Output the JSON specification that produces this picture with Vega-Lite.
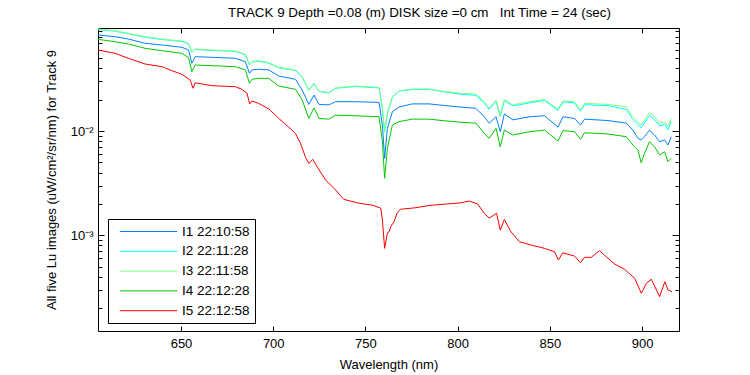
{
"$schema": "https://vega.github.io/schema/vega-lite/v6.json",
"width": 581, "height": 303,
"autosize": {"type": "none"},
"padding": {"left": 98, "top": 28, "right": 71, "bottom": 44},
"background": "white",
"title": {"text": "TRACK 9 Depth =0.08 (m) DISK size =0 cm \u00a0 Int Time = 24 (sec)", "font": "Liberation Sans", "fontSize": 13.4, "fontWeight": "normal", "color": "black", "anchor": "middle", "dx": 31, "offset": 6},
"config": {
  "view": {"stroke": "black", "strokeWidth": 1},
  "axis": {"labelFont": "Liberation Sans", "labelFontSize": 13, "labelColor": "black", "titleFont": "Liberation Sans", "titleFontSize": 13, "titleFontWeight": "normal", "titleColor": "black", "tickColor": "black", "domain": false, "grid": false, "tickSize": -5}
},
"data": {"values": [
{"s":"I1 22:10:58","w":605,"v":0.0833},{"s":"I1 22:10:58","w":614.2,"v":0.0802},{"s":"I1 22:10:58","w":621.5,"v":0.0762},{"s":"I1 22:10:58","w":630.5,"v":0.0693},{"s":"I1 22:10:58","w":639.6,"v":0.0668},{"s":"I1 22:10:58","w":650.5,"v":0.0635},{"s":"I1 22:10:58","w":654.1,"v":0.0598},{"s":"I1 22:10:58","w":655.9,"v":0.0446},{"s":"I1 22:10:58","w":657.7,"v":0.0516},{"s":"I1 22:10:58","w":666.8,"v":0.0509},{"s":"I1 22:10:58","w":679.5,"v":0.0498},{"s":"I1 22:10:58","w":684.9,"v":0.0462},{"s":"I1 22:10:58","w":687.1,"v":0.0357},{"s":"I1 22:10:58","w":688.5,"v":0.0385},{"s":"I1 22:10:58","w":692.1,"v":0.0391},{"s":"I1 22:10:58","w":697.6,"v":0.0385},{"s":"I1 22:10:58","w":703,"v":0.0337},{"s":"I1 22:10:58","w":712.1,"v":0.0313},{"s":"I1 22:10:58","w":715.7,"v":0.0247},{"s":"I1 22:10:58","w":719.3,"v":0.0180},{"s":"I1 22:10:58","w":722.1,"v":0.0221},{"s":"I1 22:10:58","w":724.8,"v":0.0180},{"s":"I1 22:10:58","w":730.2,"v":0.0178},{"s":"I1 22:10:58","w":733.8,"v":0.0191},{"s":"I1 22:10:58","w":744.7,"v":0.0191},{"s":"I1 22:10:58","w":757.4,"v":0.0188},{"s":"I1 22:10:58","w":759.2,"v":0.0114},{"s":"I1 22:10:58","w":760.4,"v":0.00547},{"s":"I1 22:10:58","w":761.9,"v":0.0106},{"s":"I1 22:10:58","w":764.6,"v":0.0153},{"s":"I1 22:10:58","w":768.2,"v":0.0170},{"s":"I1 22:10:58","w":775.4,"v":0.0182},{"s":"I1 22:10:58","w":784.5,"v":0.0182},{"s":"I1 22:10:58","w":793.6,"v":0.0175},{"s":"I1 22:10:58","w":802.6,"v":0.0169},{"s":"I1 22:10:58","w":809.9,"v":0.0165},{"s":"I1 22:10:58","w":814.4,"v":0.0137},{"s":"I1 22:10:58","w":817.1,"v":0.0119},{"s":"I1 22:10:58","w":820.8,"v":0.0137},{"s":"I1 22:10:58","w":823.1,"v":0.00985},{"s":"I1 22:10:58","w":825.3,"v":0.0146},{"s":"I1 22:10:58","w":829.9,"v":0.0128},{"s":"I1 22:10:58","w":838.9,"v":0.0137},{"s":"I1 22:10:58","w":847.1,"v":0.0140},{"s":"I1 22:10:58","w":854.4,"v":0.0109},{"s":"I1 22:10:58","w":857.1,"v":0.0137},{"s":"I1 22:10:58","w":863.4,"v":0.0132},{"s":"I1 22:10:58","w":866.6,"v":0.0114},{"s":"I1 22:10:58","w":868.8,"v":0.0130},{"s":"I1 22:10:58","w":881.5,"v":0.0126},{"s":"I1 22:10:58","w":891.4,"v":0.0119},{"s":"I1 22:10:58","w":895,"v":0.0102},{"s":"I1 22:10:58","w":897.7,"v":0.00851},{"s":"I1 22:10:58","w":899.5,"v":0.00820},{"s":"I1 22:10:58","w":901.3,"v":0.00882},{"s":"I1 22:10:58","w":904,"v":0.0102},{"s":"I1 22:10:58","w":906.7,"v":0.00916},{"s":"I1 22:10:58","w":909.5,"v":0.00790},{"s":"I1 22:10:58","w":912.2,"v":0.00820},{"s":"I1 22:10:58","w":914,"v":0.00734},{"s":"I1 22:10:58","w":915.8,"v":0.00882},
{"s":"I2 22:11:28","w":605,"v":0.0941},{"s":"I2 22:11:28","w":614.2,"v":0.0907},{"s":"I2 22:11:28","w":621.5,"v":0.0855},{"s":"I2 22:11:28","w":630.5,"v":0.0794},{"s":"I2 22:11:28","w":639.6,"v":0.0754},{"s":"I2 22:11:28","w":650.5,"v":0.0722},{"s":"I2 22:11:28","w":654.1,"v":0.0686},{"s":"I2 22:11:28","w":655.9,"v":0.0570},{"s":"I2 22:11:28","w":657.7,"v":0.0605},{"s":"I2 22:11:28","w":666.8,"v":0.0592},{"s":"I2 22:11:28","w":679.5,"v":0.0579},{"s":"I2 22:11:28","w":684.9,"v":0.0539},{"s":"I2 22:11:28","w":687.1,"v":0.0432},{"s":"I2 22:11:28","w":688.5,"v":0.0457},{"s":"I2 22:11:28","w":692.1,"v":0.0467},{"s":"I2 22:11:28","w":697.6,"v":0.0447},{"s":"I2 22:11:28","w":703,"v":0.0404},{"s":"I2 22:11:28","w":712.1,"v":0.0381},{"s":"I2 22:11:28","w":715.7,"v":0.0329},{"s":"I2 22:11:28","w":719.3,"v":0.0245},{"s":"I2 22:11:28","w":722.1,"v":0.0284},{"s":"I2 22:11:28","w":724.8,"v":0.0240},{"s":"I2 22:11:28","w":730.2,"v":0.0231},{"s":"I2 22:11:28","w":733.8,"v":0.0257},{"s":"I2 22:11:28","w":744.7,"v":0.0267},{"s":"I2 22:11:28","w":757.4,"v":0.0259},{"s":"I2 22:11:28","w":759.2,"v":0.0163},{"s":"I2 22:11:28","w":760.4,"v":0.00975},{"s":"I2 22:11:28","w":761.9,"v":0.0147},{"s":"I2 22:11:28","w":764.6,"v":0.0211},{"s":"I2 22:11:28","w":768.2,"v":0.0241},{"s":"I2 22:11:28","w":775.4,"v":0.0250},{"s":"I2 22:11:28","w":784.5,"v":0.0251},{"s":"I2 22:11:28","w":793.6,"v":0.0236},{"s":"I2 22:11:28","w":802.6,"v":0.0224},{"s":"I2 22:11:28","w":809.9,"v":0.0220},{"s":"I2 22:11:28","w":814.4,"v":0.0186},{"s":"I2 22:11:28","w":817.1,"v":0.0161},{"s":"I2 22:11:28","w":820.8,"v":0.0193},{"s":"I2 22:11:28","w":823.1,"v":0.0138},{"s":"I2 22:11:28","w":825.3,"v":0.0196},{"s":"I2 22:11:28","w":829.9,"v":0.0174},{"s":"I2 22:11:28","w":838.9,"v":0.0186},{"s":"I2 22:11:28","w":847.1,"v":0.0196},{"s":"I2 22:11:28","w":854.4,"v":0.0158},{"s":"I2 22:11:28","w":857.1,"v":0.0190},{"s":"I2 22:11:28","w":863.4,"v":0.0186},{"s":"I2 22:11:28","w":866.6,"v":0.0155},{"s":"I2 22:11:28","w":868.8,"v":0.0179},{"s":"I2 22:11:28","w":881.5,"v":0.0175},{"s":"I2 22:11:28","w":891.4,"v":0.0161},{"s":"I2 22:11:28","w":895,"v":0.0129},{"s":"I2 22:11:28","w":897.7,"v":0.0116},{"s":"I2 22:11:28","w":899.5,"v":0.0107},{"s":"I2 22:11:28","w":901.3,"v":0.0120},{"s":"I2 22:11:28","w":904,"v":0.0141},{"s":"I2 22:11:28","w":906.7,"v":0.0129},{"s":"I2 22:11:28","w":909.5,"v":0.0112},{"s":"I2 22:11:28","w":912.2,"v":0.0116},{"s":"I2 22:11:28","w":914,"v":0.0103},{"s":"I2 22:11:28","w":915.8,"v":0.0124},
{"s":"I3 22:11:58","w":605,"v":0.0951},{"s":"I3 22:11:58","w":614.2,"v":0.0916},{"s":"I3 22:11:58","w":621.5,"v":0.0864},{"s":"I3 22:11:58","w":630.5,"v":0.0802},{"s":"I3 22:11:58","w":639.6,"v":0.0762},{"s":"I3 22:11:58","w":650.5,"v":0.0729},{"s":"I3 22:11:58","w":654.1,"v":0.0693},{"s":"I3 22:11:58","w":655.9,"v":0.0576},{"s":"I3 22:11:58","w":657.7,"v":0.0611},{"s":"I3 22:11:58","w":666.8,"v":0.0598},{"s":"I3 22:11:58","w":679.5,"v":0.0585},{"s":"I3 22:11:58","w":684.9,"v":0.0544},{"s":"I3 22:11:58","w":687.1,"v":0.0436},{"s":"I3 22:11:58","w":688.5,"v":0.0462},{"s":"I3 22:11:58","w":692.1,"v":0.0472},{"s":"I3 22:11:58","w":697.6,"v":0.0452},{"s":"I3 22:11:58","w":703,"v":0.0408},{"s":"I3 22:11:58","w":712.1,"v":0.0385},{"s":"I3 22:11:58","w":715.7,"v":0.0332},{"s":"I3 22:11:58","w":719.3,"v":0.0247},{"s":"I3 22:11:58","w":722.1,"v":0.0287},{"s":"I3 22:11:58","w":724.8,"v":0.0242},{"s":"I3 22:11:58","w":730.2,"v":0.0233},{"s":"I3 22:11:58","w":733.8,"v":0.0260},{"s":"I3 22:11:58","w":744.7,"v":0.0270},{"s":"I3 22:11:58","w":757.4,"v":0.0262},{"s":"I3 22:11:58","w":759.2,"v":0.0165},{"s":"I3 22:11:58","w":760.4,"v":0.00985},{"s":"I3 22:11:58","w":761.9,"v":0.0148},{"s":"I3 22:11:58","w":764.6,"v":0.0213},{"s":"I3 22:11:58","w":768.2,"v":0.0243},{"s":"I3 22:11:58","w":775.4,"v":0.0253},{"s":"I3 22:11:58","w":784.5,"v":0.0253},{"s":"I3 22:11:58","w":793.6,"v":0.0238},{"s":"I3 22:11:58","w":802.6,"v":0.0230},{"s":"I3 22:11:58","w":809.9,"v":0.0226},{"s":"I3 22:11:58","w":814.4,"v":0.0191},{"s":"I3 22:11:58","w":817.1,"v":0.0165},{"s":"I3 22:11:58","w":820.8,"v":0.0198},{"s":"I3 22:11:58","w":823.1,"v":0.0142},{"s":"I3 22:11:58","w":825.3,"v":0.0201},{"s":"I3 22:11:58","w":829.9,"v":0.0178},{"s":"I3 22:11:58","w":838.9,"v":0.0191},{"s":"I3 22:11:58","w":847.1,"v":0.0201},{"s":"I3 22:11:58","w":854.4,"v":0.0162},{"s":"I3 22:11:58","w":857.1,"v":0.0195},{"s":"I3 22:11:58","w":863.4,"v":0.0191},{"s":"I3 22:11:58","w":866.6,"v":0.0159},{"s":"I3 22:11:58","w":868.8,"v":0.0184},{"s":"I3 22:11:58","w":881.5,"v":0.0180},{"s":"I3 22:11:58","w":891.4,"v":0.0171},{"s":"I3 22:11:58","w":895,"v":0.0137},{"s":"I3 22:11:58","w":897.7,"v":0.0123},{"s":"I3 22:11:58","w":899.5,"v":0.0114},{"s":"I3 22:11:58","w":901.3,"v":0.0128},{"s":"I3 22:11:58","w":904,"v":0.0150},{"s":"I3 22:11:58","w":906.7,"v":0.0137},{"s":"I3 22:11:58","w":909.5,"v":0.0119},{"s":"I3 22:11:58","w":912.2,"v":0.0123},{"s":"I3 22:11:58","w":914,"v":0.0110},{"s":"I3 22:11:58","w":915.8,"v":0.0132},
{"s":"I4 22:12:28","w":605,"v":0.0757},{"s":"I4 22:12:28","w":614.2,"v":0.0718},{"s":"I4 22:12:28","w":621.5,"v":0.0683},{"s":"I4 22:12:28","w":630.5,"v":0.0621},{"s":"I4 22:12:28","w":639.6,"v":0.0589},{"s":"I4 22:12:28","w":650.5,"v":0.0556},{"s":"I4 22:12:28","w":654.1,"v":0.0505},{"s":"I4 22:12:28","w":655.9,"v":0.0370},{"s":"I4 22:12:28","w":657.7,"v":0.0429},{"s":"I4 22:12:28","w":666.8,"v":0.0423},{"s":"I4 22:12:28","w":679.5,"v":0.0414},{"s":"I4 22:12:28","w":684.9,"v":0.0385},{"s":"I4 22:12:28","w":687.1,"v":0.0287},{"s":"I4 22:12:28","w":688.5,"v":0.0313},{"s":"I4 22:12:28","w":692.1,"v":0.0320},{"s":"I4 22:12:28","w":697.6,"v":0.0320},{"s":"I4 22:12:28","w":703,"v":0.0270},{"s":"I4 22:12:28","w":712.1,"v":0.0251},{"s":"I4 22:12:28","w":715.7,"v":0.0198},{"s":"I4 22:12:28","w":719.3,"v":0.0132},{"s":"I4 22:12:28","w":722.1,"v":0.0167},{"s":"I4 22:12:28","w":724.8,"v":0.0132},{"s":"I4 22:12:28","w":730.2,"v":0.0130},{"s":"I4 22:12:28","w":733.8,"v":0.0142},{"s":"I4 22:12:28","w":744.7,"v":0.0140},{"s":"I4 22:12:28","w":757.4,"v":0.0137},{"s":"I4 22:12:28","w":759.2,"v":0.00790},{"s":"I4 22:12:28","w":760.4,"v":0.00352},{"s":"I4 22:12:28","w":761.9,"v":0.00682},{"s":"I4 22:12:28","w":764.6,"v":0.0114},{"s":"I4 22:12:28","w":768.2,"v":0.0123},{"s":"I4 22:12:28","w":775.4,"v":0.0130},{"s":"I4 22:12:28","w":784.5,"v":0.0130},{"s":"I4 22:12:28","w":793.6,"v":0.0125},{"s":"I4 22:12:28","w":802.6,"v":0.0121},{"s":"I4 22:12:28","w":809.9,"v":0.0119},{"s":"I4 22:12:28","w":814.4,"v":0.00950},{"s":"I4 22:12:28","w":817.1,"v":0.00851},{"s":"I4 22:12:28","w":820.8,"v":0.0106},{"s":"I4 22:12:28","w":823.1,"v":0.00707},{"s":"I4 22:12:28","w":825.3,"v":0.0102},{"s":"I4 22:12:28","w":829.9,"v":0.00916},{"s":"I4 22:12:28","w":838.9,"v":0.00985},{"s":"I4 22:12:28","w":847.1,"v":0.0102},{"s":"I4 22:12:28","w":854.4,"v":0.00802},{"s":"I4 22:12:28","w":857.1,"v":0.0101},{"s":"I4 22:12:28","w":863.4,"v":0.00985},{"s":"I4 22:12:28","w":866.6,"v":0.00833},{"s":"I4 22:12:28","w":868.8,"v":0.00963},{"s":"I4 22:12:28","w":881.5,"v":0.00936},{"s":"I4 22:12:28","w":891.4,"v":0.00882},{"s":"I4 22:12:28","w":895,"v":0.00734},{"s":"I4 22:12:28","w":897.7,"v":0.00657},{"s":"I4 22:12:28","w":899.5,"v":0.00497},{"s":"I4 22:12:28","w":901.3,"v":0.00611},{"s":"I4 22:12:28","w":904,"v":0.00790},{"s":"I4 22:12:28","w":906.7,"v":0.00707},{"s":"I4 22:12:28","w":909.5,"v":0.00589},{"s":"I4 22:12:28","w":912.2,"v":0.00633},{"s":"I4 22:12:28","w":914,"v":0.00508},{"s":"I4 22:12:28","w":915.8,"v":0.00547},
{"s":"I5 22:12:58","w":605,"v":0.0598},{"s":"I5 22:12:58","w":614.2,"v":0.0556},{"s":"I5 22:12:58","w":621.5,"v":0.0498},{"s":"I5 22:12:58","w":630.5,"v":0.0439},{"s":"I5 22:12:58","w":639.6,"v":0.0414},{"s":"I5 22:12:58","w":645,"v":0.0379},{"s":"I5 22:12:58","w":650.5,"v":0.0350},{"s":"I5 22:12:58","w":655,"v":0.0308},{"s":"I5 22:12:58","w":656.5,"v":0.0257},{"s":"I5 22:12:58","w":657.7,"v":0.0290},{"s":"I5 22:12:58","w":666.8,"v":0.0272},{"s":"I5 22:12:58","w":679.5,"v":0.0266},{"s":"I5 22:12:58","w":683,"v":0.0251},{"s":"I5 22:12:58","w":685.8,"v":0.0230},{"s":"I5 22:12:58","w":687.2,"v":0.0182},{"s":"I5 22:12:58","w":688.5,"v":0.0194},{"s":"I5 22:12:58","w":692.1,"v":0.0184},{"s":"I5 22:12:58","w":697.6,"v":0.0163},{"s":"I5 22:12:58","w":703,"v":0.0132},{"s":"I5 22:12:58","w":708.4,"v":0.0109},{"s":"I5 22:12:58","w":712,"v":0.00950},{"s":"I5 22:12:58","w":714.8,"v":0.00762},{"s":"I5 22:12:58","w":717.5,"v":0.00560},{"s":"I5 22:12:58","w":719.3,"v":0.00490},{"s":"I5 22:12:58","w":721.5,"v":0.00535},{"s":"I5 22:12:58","w":723.8,"v":0.00455},{"s":"I5 22:12:58","w":728.4,"v":0.00339},{"s":"I5 22:12:58","w":733.8,"v":0.00272},{"s":"I5 22:12:58","w":738.3,"v":0.00221},{"s":"I5 22:12:58","w":746.5,"v":0.00203},{"s":"I5 22:12:58","w":753.7,"v":0.00195},{"s":"I5 22:12:58","w":758.3,"v":0.00182},{"s":"I5 22:12:58","w":759.2,"v":0.00140},{"s":"I5 22:12:58","w":760.4,"v":0.000750},{"s":"I5 22:12:58","w":761.9,"v":0.00105},{"s":"I5 22:12:58","w":762.8,"v":0.00108},{"s":"I5 22:12:58","w":763.7,"v":0.00121},{"s":"I5 22:12:58","w":765.5,"v":0.00135},{"s":"I5 22:12:58","w":767.3,"v":0.00166},{"s":"I5 22:12:58","w":769.1,"v":0.00178},{"s":"I5 22:12:58","w":776.4,"v":0.00183},{"s":"I5 22:12:58","w":785.4,"v":0.00194},{"s":"I5 22:12:58","w":794.5,"v":0.00200},{"s":"I5 22:12:58","w":801.7,"v":0.00205},{"s":"I5 22:12:58","w":806.3,"v":0.00213},{"s":"I5 22:12:58","w":810.8,"v":0.00200},{"s":"I5 22:12:58","w":814.4,"v":0.00163},{"s":"I5 22:12:58","w":817.1,"v":0.00146},{"s":"I5 22:12:58","w":821.1,"v":0.00163},{"s":"I5 22:12:58","w":823.1,"v":0.00112},{"s":"I5 22:12:58","w":825.3,"v":0.00142},{"s":"I5 22:12:58","w":828.9,"v":0.00108},{"s":"I5 22:12:58","w":833.5,"v":0.000868},{"s":"I5 22:12:58","w":839.8,"v":0.000807},{"s":"I5 22:12:58","w":847.1,"v":0.000750},{"s":"I5 22:12:58","w":852.5,"v":0.000696},{"s":"I5 22:12:58","w":854.6,"v":0.000580},{"s":"I5 22:12:58","w":857,"v":0.000681},{"s":"I5 22:12:58","w":863.3,"v":0.000633},{"s":"I5 22:12:58","w":866.6,"v":0.000546},{"s":"I5 22:12:58","w":868.8,"v":0.000615},{"s":"I5 22:12:58","w":872.4,"v":0.000615},{"s":"I5 22:12:58","w":876.9,"v":0.000712},{"s":"I5 22:12:58","w":881.5,"v":0.000602},{"s":"I5 22:12:58","w":885.1,"v":0.000531},{"s":"I5 22:12:58","w":890.5,"v":0.000472},{"s":"I5 22:12:58","w":896,"v":0.000387},{"s":"I5 22:12:58","w":899.6,"v":0.000278},{"s":"I5 22:12:58","w":902.3,"v":0.000347},{"s":"I5 22:12:58","w":905,"v":0.000379},{"s":"I5 22:12:58","w":909.5,"v":0.000258},{"s":"I5 22:12:58","w":912.3,"v":0.000359},{"s":"I5 22:12:58","w":914.1,"v":0.000299},{"s":"I5 22:12:58","w":916.2,"v":0.000288}
]},
"layer": [
  {
    "mark": {"type": "line", "strokeWidth": 1, "clip": true},
    "encoding": {
      "x": {"field": "w", "type": "quantitative", "scale": {"domain": [605, 920], "nice": false, "zero": false},
            "axis": {"values": [650, 700, 750, 800, 850, 900], "title": "Wavelength (nm)", "labelPadding": 11, "titlePadding": 8}},
      "y": {"field": "v", "type": "quantitative", "scale": {"type": "log", "domain": [0.000121, 0.0972], "nice": false},
            "axis": {"title": "All five Lu images (uW/cm²/sr/nm) for Track 9", "labelExpr": "abs(datum.value-0.01)<1e-9 ? '10⁻²' : abs(datum.value-0.001)<1e-9 ? '10⁻³' : ''", "labelOverlap": false, "labelPadding": 11, "titlePadding": 12,
                     "tickSize": {"condition": {"test": "abs(datum.value-0.01)<1e-9 || abs(datum.value-0.001)<1e-9 || abs(datum.value-0.0001)<1e-10", "value": -6}, "value": -4}}},
      "color": {"field": "s", "type": "nominal",
        "scale": {"domain": ["I1 22:10:58", "I2 22:11:28", "I3 22:11:58", "I4 22:12:28", "I5 22:12:58"], "range": ["#0080ff", "#00ffff", "#80ff80", "#00c800", "#ff0000"]},
        "legend": {"orient": "none", "legendX": 10, "legendY": 191, "title": null, "symbolType": "M-4.1,0H4.1", "symbolSize": 196, "symbolStrokeWidth": 1, "symbolOffset": 28, "labelOffset": 26, "rowPadding": 5.8, "padding": 5, "strokeColor": "black", "fillColor": "white", "labelFontSize": 13.5, "labelFont": "Liberation Sans", "labelColor": "black", "cornerRadius": 0, "labelLimit": 200}}
    }
  },
  {
    "mark": {"type": "line", "opacity": 0},
    "encoding": {
      "x": {"field": "w", "type": "quantitative", "axis": {"orient": "top", "values": [650, 700, 750, 800, 850, 900], "labels": false, "title": null}},
      "y": {"field": "v", "type": "quantitative", "axis": {"orient": "right", "labels": false, "title": null,
            "tickSize": {"condition": {"test": "abs(datum.value-0.01)<1e-9 || abs(datum.value-0.001)<1e-9 || abs(datum.value-0.0001)<1e-10", "value": -7}, "value": -4}}}
    }
  }
],
"resolve": {"axis": {"x": "independent", "y": "independent"}}
}
